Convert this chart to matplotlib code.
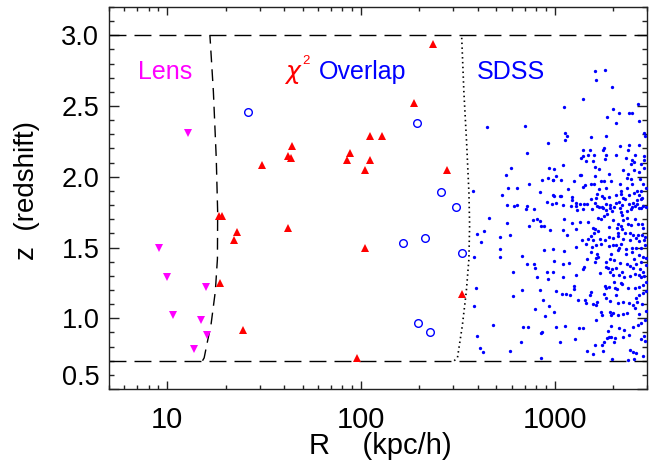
import numpy as np
import matplotlib
matplotlib.use('Agg')
import matplotlib.pyplot as plt
from matplotlib.ticker import FixedLocator, NullFormatter, FixedFormatter
import matplotlib.transforms as mtransforms

plt.rcParams['font.family'] = ['Liberation Sans', 'DejaVu Sans']

# ---------------- data ----------------
lens_R = [12.8, 9.06, 10.0, 10.65, 15.9, 15.0, 16.1, 13.7]
lens_z = [2.31, 1.50, 1.29, 1.02, 1.22, 0.99, 0.88, 0.78]

chi2_R = [30.8, 42.0, 43.3, 44.3, 42.0, 18.4, 19.1, 22.8, 22.2, 18.7, 24.6,
          236, 189, 112, 129, 87.3, 84.5, 112, 105.5, 279, 104.6, 331, 95.6]
chi2_z = [2.08, 2.15, 2.13, 2.22, 1.64, 1.72, 1.72, 1.61, 1.55, 1.25, 0.92,
          2.94, 2.52, 2.29, 2.29, 2.17, 2.12, 2.12, 2.05, 2.05, 1.50, 1.17, 0.72]

overlap_R = [26.2, 194.5, 258, 311, 215, 165, 334, 198, 228]
overlap_z = [2.46, 2.38, 1.89, 1.785, 1.57, 1.53, 1.46, 0.97, 0.90]

sdss_logR = [
    2.649, 2.846, 2.964, 2.856, 2.777, 2.973, 2.750, 2.933, 2.964, 2.993, 2.870, 2.760, 2.805,
    2.577, 2.923, 2.728, 2.993, 2.755, 2.805, 2.789, 2.858, 2.962, 2.986, 2.895, 2.854,
    3.207, 3.259, 3.212, 3.298, 3.146, 3.430, 3.050, 3.300, 3.333, 3.382,
    3.401, 3.273, 3.315, 3.437, 3.055, 3.062, 3.055, 3.189, 3.264, 3.461,
    3.468, 3.382, 3.336, 3.434, 3.254, 3.248, 3.147, 3.183, 3.377, 3.173,
    3.206, 3.149, 3.266, 3.315, 3.415, 3.463, 3.134, 3.259, 3.369, 3.163,
    3.200, 3.401, 3.410, 3.463, 3.043, 3.209, 3.396, 3.447, 2.997, 3.231,
    3.351, 3.408, 3.463, 3.007, 3.129, 3.135, 3.281, 3.207, 3.379, 3.437,
    2.990, 3.033, 3.099, 3.240, 3.254, 3.291, 3.372, 3.393, 3.439, 3.156,
    3.187, 3.202, 3.336, 3.401, 3.459, 3.147, 3.069, 3.228, 3.264, 3.372,
    3.470, 3.341, 3.427, 3.444, 3.221, 3.319, 3.344, 3.382, 3.410, 3.434,
    2.998, 3.026, 3.033, 3.091, 3.245, 3.189, 3.214, 3.255, 3.283, 3.351,
    3.365, 3.451, 3.091, 3.425, 3.444, 3.009, 3.111, 3.129, 3.154, 3.166,
    3.211, 3.266, 3.315, 3.331, 3.384, 3.406,
    3.041, 3.110, 3.231, 3.252, 3.288, 3.346, 3.428, 3.456, 3.399, 3.434, 3.472,
    3.219, 3.245, 3.308, 3.338, 3.194, 3.149,
    3.087, 3.115, 3.267, 3.286, 3.298, 3.345, 3.372, 3.393, 3.413, 3.447,
    3.050, 3.091, 3.132, 3.170, 3.225, 3.240, 3.254, 3.271, 3.303, 3.350,
    3.351, 3.372, 3.413, 3.430, 3.451, 3.458, 3.329, 3.345, 3.381, 3.394,
    3.043, 3.110, 3.199, 3.211, 3.223, 3.206, 3.279, 3.321, 3.346, 3.362,
    3.387, 3.326, 3.403, 3.430, 3.451, 3.468,
    3.065, 3.187, 3.142, 3.173, 3.199, 3.233, 3.262, 3.279, 3.303, 3.327,
    3.353, 3.391, 3.418, 3.437, 3.461,
    2.990, 3.050, 3.111, 3.163, 3.194, 3.213, 3.242, 3.279, 3.302, 3.319,
    3.345, 3.334, 3.326, 3.370, 3.401, 3.422, 3.444, 3.465,
    3.190, 3.219, 3.290, 3.367, 3.399, 3.434, 3.458, 3.472, 3.410,
    2.998, 3.045, 3.074, 3.165, 3.214, 3.226, 3.207, 3.264, 3.285, 3.307,
    3.336, 3.375, 3.389, 3.422, 3.447, 3.473,
    3.153, 3.149, 3.266, 3.276, 3.298, 3.315, 3.350, 3.405, 3.441, 3.458,
    2.993, 3.041, 3.108, 3.233, 3.285, 3.302, 3.333, 3.358, 3.387, 3.413,
    3.435, 3.447, 3.463, 3.472,
    3.005, 3.099, 3.099, 3.187, 3.182, 3.262, 3.266, 3.283, 3.307, 3.343,
    3.350, 3.324, 3.310, 3.379, 3.413, 3.434, 3.456,
    3.038, 3.057, 3.079, 3.120, 3.156, 3.161, 3.199, 3.219, 3.214, 3.257,
    3.267, 3.286, 3.315, 3.327, 3.353, 3.382, 3.418, 3.435, 3.458, 3.473,
    2.998, 3.238, 3.245, 3.213, 3.288, 3.293, 3.303, 3.327, 3.353, 3.375,
    3.405, 3.427, 3.453, 3.413, 3.434, 3.473,
    3.009, 3.053, 3.125, 3.147, 3.278, 3.293, 3.334, 3.358, 3.384, 3.405,
    3.430, 3.446, 3.466,
    3.026, 3.105, 3.168, 3.197, 3.207, 3.243, 3.255, 3.269, 3.279, 3.293,
    3.309, 3.310, 3.353, 3.389, 3.405, 3.420, 3.447, 3.463, 3.468,
    3.250, 3.297, 3.377, 3.411, 3.458,
    2.659, 2.887, 2.911, 2.923, 2.752, 2.868, 2.928, 2.947, 2.976, 2.637,
    2.599, 2.769, 2.716, 2.620, 2.719, 2.943, 2.584, 2.717, 2.832, 2.860,
    2.894, 2.899, 2.786, 2.961, 2.911, 2.964, 2.596, 2.834, 2.925, 2.784,
    2.940, 2.585, 2.973, 2.901, 2.952, 2.681, 2.837, 2.863, 2.935, 2.931,
    2.601, 2.825, 2.613, 2.630, 2.772, 2.931,
]
sdss_z = [
    2.35, 2.36, 2.24, 2.17, 2.06, 2.06, 2.01, 1.98, 1.99, 1.98, 1.95, 1.92, 1.92,
    1.90, 1.89, 1.87, 1.87, 1.80, 1.80, 1.79, 1.79, 1.82, 1.81, 1.77, 1.77,
    2.745, 2.752, 2.686, 2.634, 2.547, 2.517, 2.491, 2.481, 2.453, 2.453,
    2.451, 2.423, 2.380, 2.397, 2.312, 2.286, 2.263, 2.284, 2.291, 2.312,
    2.291, 2.227, 2.218, 2.225, 2.206, 2.187, 2.187, 2.190, 2.192, 2.157,
    2.157, 2.147, 2.152, 2.152, 2.152, 2.147, 2.131, 2.126, 2.133, 2.112,
    2.112, 2.122, 2.105, 2.117, 2.086, 2.072, 2.089, 2.089, 2.058, 2.056,
    2.046, 2.046, 2.063, 2.004, 2.016, 2.013, 2.023, 2.004, 2.023, 2.034,
    1.980, 1.976, 1.969, 1.969, 1.969, 1.973, 1.992, 1.987, 1.987, 1.943,
    1.950, 1.950, 1.952, 1.947, 1.952, 1.931, 1.917, 1.917, 1.921, 1.921,
    1.924, 1.900, 1.898, 1.898, 1.877, 1.874, 1.877, 1.870, 1.882, 1.870,
    1.867, 1.865, 1.865, 1.860, 1.863, 1.846, 1.853, 1.851, 1.858, 1.853,
    1.846, 1.853, 1.835, 1.839, 1.844, 1.818, 1.818, 1.811, 1.806, 1.806,
    1.816, 1.806, 1.816, 1.825, 1.811, 1.816,
    1.804, 1.792, 1.787, 1.780, 1.802, 1.797, 1.806, 1.792, 1.783, 1.780, 1.787,
    1.792, 1.785, 1.783, 1.776, 1.773, 1.773,
    1.792, 1.766, 1.762, 1.776, 1.755, 1.752, 1.759, 1.769, 1.790, 1.776,
    1.700, 1.675, 1.682, 1.682, 1.710, 1.705, 1.722, 1.740, 1.696, 1.729,
    1.691, 1.707, 1.700, 1.663, 1.663, 1.635, 1.665, 1.653, 1.667, 1.658,
    1.625, 1.630, 1.635, 1.628, 1.616, 1.606, 1.642, 1.635, 1.628, 1.602,
    1.606, 1.606, 1.585, 1.592, 1.592, 1.576,
    1.588, 1.580, 1.550, 1.557, 1.550, 1.559, 1.555, 1.576, 1.566, 1.578,
    1.562, 1.552, 1.564, 1.545, 1.555,
    1.489, 1.477, 1.505, 1.524, 1.505, 1.517, 1.522, 1.508, 1.517, 1.519,
    1.522, 1.500, 1.479, 1.491, 1.500, 1.496, 1.500, 1.515,
    1.465, 1.451, 1.456, 1.453, 1.468, 1.446, 1.435, 1.423, 1.421,
    1.402, 1.381, 1.388, 1.416, 1.428, 1.430, 1.395, 1.399, 1.418, 1.411,
    1.392, 1.383, 1.371, 1.385, 1.399, 1.376,
    1.362, 1.348, 1.364, 1.355, 1.345, 1.352, 1.326, 1.357, 1.345, 1.329,
    1.324, 1.291, 1.305, 1.317, 1.329, 1.305, 1.303, 1.291, 1.298, 1.315,
    1.305, 1.289, 1.301, 1.258,
    1.195, 1.230, 1.204, 1.183, 1.167, 1.225, 1.211, 1.218, 1.254, 1.251,
    1.242, 1.206, 1.216, 1.216, 1.211, 1.223, 1.235,
    1.169, 1.169, 1.162, 1.131, 1.129, 1.108, 1.103, 1.112, 1.094, 1.171,
    1.143, 1.119, 1.164, 1.110, 1.117, 1.110, 1.141, 1.164, 1.181, 1.192,
    1.044, 1.047, 1.023, 0.988, 1.047, 1.023, 1.035, 1.023, 1.030, 1.035,
    1.094, 1.117, 1.101, 1.070, 1.030, 1.054,
    0.941, 0.945, 0.929, 0.934, 0.910, 0.945, 0.934, 0.920, 0.882, 0.941,
    0.952, 0.964, 0.988,
    0.835, 0.854, 0.771, 0.750, 0.811, 0.811, 0.830, 0.858, 0.870, 0.868,
    0.830, 0.858, 0.865, 0.774, 0.764, 0.755, 0.854, 0.875, 0.840,
    0.771, 0.713, 0.703, 0.713, 0.734,
    1.710, 1.696, 1.703, 1.686, 1.675, 1.649, 1.649, 1.649, 1.625, 1.616,
    1.599, 1.585, 1.571, 1.538, 1.489, 1.484, 1.430, 1.435, 1.439, 1.385,
    1.381, 1.352, 1.326, 1.324, 1.291, 1.279, 1.211, 1.197, 1.202, 1.157,
    1.129, 1.089, 1.084, 1.065, 1.014, 0.955, 0.941, 0.936, 0.905, 0.894,
    0.875, 0.833, 0.788, 0.764, 0.769, 0.720,
]

# selection boundaries
z_cut = [0.70, 3.00]
lens_curve_z = [0.70, 0.72, 0.85, 0.95, 1.19, 1.42, 1.75, 2.13, 2.60, 3.00]
lens_curve_R = [15.2, 15.5, 16.2, 16.8, 17.7, 18.15, 18.2, 17.9, 17.3, 16.6]
sdss_curve_z = [0.70, 0.72, 0.95, 1.19, 1.42, 1.66, 1.89, 2.25, 2.60, 3.00]
sdss_curve_R = [303, 315, 334, 350, 361, 364, 361, 351, 340, 331]

x_major = [10, 100, 1000]
y_major = [0.5, 1.0, 1.5, 2.0, 2.5, 3.0]
y_labels = ['0.5', '1.0', '1.5', '2.0', '2.5', '3.0']

# ---------------- figure ----------------
fig = plt.figure(figsize=(6.49, 4.73), dpi=100)
ax = fig.add_axes([109/649, 1 - 389/473, (647 - 109)/649, (389 - 7)/473])
ax.set_xscale('log')
ax.set_xlim(5, 3000)
ax.set_ylim(0.5, 3.2)

for zc in z_cut:
    ax.axhline(zc, color='black', lw=1.0, dashes=(12.2, 5.8), zorder=2)
ax.plot(lens_curve_R, lens_curve_z, color='black', lw=1.0, dashes=(8.5, 5.0), zorder=2)
ax.plot(sdss_curve_R, sdss_curve_z, color='black', lw=1.2, dashes=(0.9, 2.0), zorder=2)

sdss_R = 10 ** np.array(sdss_logR)
ax.plot(sdss_R, sdss_z, linestyle='none', marker='o', ms=2.4, mew=0,
        color='#0000ff', zorder=3)
ax.plot(lens_R, lens_z, linestyle='none', marker='v', ms=5.8, mew=0,
        color='#ff00ff', zorder=4)
ax.plot(chi2_R, chi2_z, linestyle='none', marker='^', ms=6.2, mew=0,
        color='#ff0000', zorder=4)
ax.plot(overlap_R, overlap_z, linestyle='none', marker='o', ms=5.5, mew=1.0,
        mfc='none', mec='#0000ff', zorder=4)

# region labels
ax.text(40.0, 2.69, r'$\chi$', color='#ff0000', fontsize=18, ha='left', va='baseline')
ax.text(50.0, 2.80, '2', color='#ff0000', fontsize=9.5, ha='left', va='baseline')
ax.text(9.7, 2.69, 'Lens', color='#ff00ff', fontsize=18, ha='center', va='baseline')
ax.text(60.5, 2.69, 'Overlap', color='#0000ff', fontsize=18, ha='left', va='baseline')
ax.text(597, 2.69, 'SDSS', color='#0000ff', fontsize=18, ha='center', va='baseline')

# axes styling
ax.xaxis.set_major_locator(FixedLocator(x_major))
ax.xaxis.set_major_formatter(FixedFormatter([str(v) for v in x_major]))
minor_x = [m * 10 ** d for d in range(0, 4) for m in range(2, 10)]
ax.xaxis.set_minor_locator(FixedLocator(minor_x))
ax.xaxis.set_minor_formatter(NullFormatter())
ax.yaxis.set_major_locator(FixedLocator(y_major))
ax.yaxis.set_major_formatter(FixedFormatter(y_labels))
ax.yaxis.set_minor_locator(FixedLocator(np.round(np.arange(0.5, 3.21, 0.1), 2)))

for s in ax.spines.values():
    s.set_linewidth(1.0)
    s.set_color('#222222')
ax.tick_params(axis='both', which='both', direction='in', top=True, right=True,
               color='#222222', width=1.0)
ax.tick_params(axis='x', which='major', length=5.8, pad=12, labelsize=21)
ax.tick_params(axis='x', which='minor', length=2.9)
ax.tick_params(axis='y', which='major', length=7.2, pad=7, labelsize=19.5)
ax.tick_params(axis='y', which='minor', length=3.8)

ax.set_xlabel('R    (kpc/h)', fontsize=21)
ax.xaxis.set_label_coords(0.505, -0.112)
ax.xaxis.label.set_va('top')
ax.set_ylabel('z  (redshift)', fontsize=20)
ax.yaxis.set_label_coords(-0.128, 0.52)

# IDL-style raised bottom label
fig.canvas.draw()
t0 = ax.yaxis.get_major_ticks()[0].label1
t0.set_transform(t0.get_transform() + mtransforms.ScaledTranslation(0, 0.14, fig.dpi_scale_trans))

fig.savefig('out.png', dpi=100)
